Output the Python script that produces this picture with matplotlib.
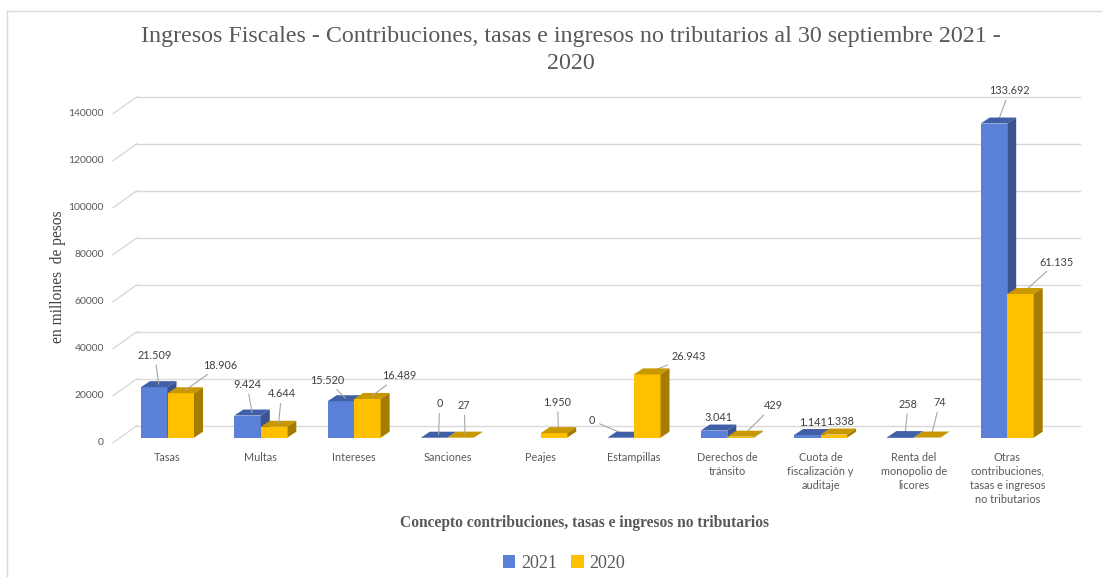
import numpy as np
import matplotlib
matplotlib.use('Agg')
import matplotlib.pyplot as plt
from matplotlib.patches import Polygon, Patch
from matplotlib.lines import Line2D

# datos (millones de pesos)
categorias = ['Tasas', 'Multas', 'Intereses', 'Sanciones', 'Peajes', 'Estampillas',
              'Derechos de\ntránsito', 'Cuota de\nfiscalización y\nauditaje',
              'Renta del\nmonopolio de\nlicores',
              'Otras\ncontribuciones,\ntasas e ingresos\nno tributarios']
valores_2021 = [21509, 9424, 15520, 0, np.nan, 0, 3041, 1141, 258, 133692]
valores_2020 = [18906, 4644, 16489, 27, 1950, 26943, 429, 1338, 74, 61135]
ticks_y = [0, 20000, 40000, 60000, 80000, 100000, 120000, 140000]

# posiciones de las etiquetas (desplazamiento en pixeles respecto a la cara superior)
off_2021 = [(-4, 29), (-5, 28), (-18, 18), (1, 31), (0, 0), (-33, 14), (0, 10), (1, 10), (3, 30), (11, 30)]
off_2020 = [(35, 25), (3, 30), (27, 20), (-1, 29), (-1, 28), (37, 15), (28, 28), (2, 10), (8, 32), (32, 29)]

W, H = 1102, 577
fig = plt.figure(figsize=(W / 100, H / 100), dpi=100)

# geometria del area de trazado en pixeles
L, R, B, T = 113, 1056, 437.7, 90
c0, paso = 167.5, 93.3
ux = 1 / paso
uy = 20000 / 47.0
ax = fig.add_axes([L / W, (H - B) / H, (R - L) / W, (B - T) / H])
x_lo, x_hi = (L - c0) / paso, (R - c0) / paso
ax.set_xlim(x_lo, x_hi)
ax.set_ylim(0, (B - T) * uy)
ax.axis('off')

gris = '#595959'
sans = 'Lato'
serif = 'Liberation Serif'

# lineas de la cuadricula (pared del fondo + piso lateral)
for v in ticks_y:
    yb = v + 12 * uy
    ax.plot([x_lo + 24 * ux, x_hi + 24 * ux], [yb, yb], color='#d9d9d9', lw=1, zorder=1, clip_on=False)
    ax.plot([x_lo, x_lo + 24 * ux], [yb - 17 * uy, yb], color='#d9d9d9', lw=1, zorder=1, clip_on=False)
    ax.text(x_lo - 9 * ux, v - 5 * uy, str(v), ha='right', va='center', fontsize=7.5,
            color=gris, family=sans)

w = 26.5 * ux
dx, dy = 9 * ux, 6 * uy
colores = {
    '2021': ('#5b80d8', '#405fa6', '#39548f'),
    '2020': ('#ffc000', '#c99700', '#a57c00'),
}


def barra(x0, h, cols, z):
    front, top, side = cols
    ax.add_patch(Polygon([(x0, 0), (x0 + w, 0), (x0 + w, h), (x0, h)], closed=True,
                         facecolor=front, edgecolor='none', zorder=z))
    ax.add_patch(Polygon([(x0, h), (x0 + w, h), (x0 + w + dx, h + dy), (x0 + dx, h + dy)],
                         closed=True, facecolor=top, edgecolor='none', zorder=z))
    ax.add_patch(Polygon([(x0 + w, 0), (x0 + w + dx, dy), (x0 + w + dx, h + dy), (x0 + w, h)],
                         closed=True, facecolor=side, edgecolor='none', zorder=z))


def etiqueta(xc, h, off):
    txt = f'{int(h):,}'.replace(',', '.')
    xy = (xc + dx / 2, h + dy / 2)
    flecha = None
    if abs(off[0]) + abs(off[1]) > 14:
        flecha = dict(arrowstyle='-', color='#a6a6a6', lw=0.8, shrinkA=1, shrinkB=0)
    ax.annotate(txt, xy=xy, xytext=off, textcoords='offset pixels', ha='center', va='center',
                fontsize=7.8, color='#404040', family=sans, arrowprops=flecha, zorder=10)


for i in range(len(categorias)):
    v1, v2 = valores_2021[i], valores_2020[i]
    if not np.isnan(v1):
        barra(i - w, v1, colores['2021'], 3 + 2 * i)
    barra(i, v2, colores['2020'], 4 + 2 * i)
    if not np.isnan(v1):
        etiqueta(i - w / 2, v1, off_2021[i])
    etiqueta(i + w / 2, v2, off_2020[i])
    ax.text(i, -14 * uy, categorias[i], ha='center', va='top', fontsize=7.8, color=gris,
            family=sans, linespacing=1.35)

# titulo y ejes
fig.text(571 / W, 1 - 50 / H,
         'Ingresos Fiscales - Contribuciones, tasas e ingresos no tributarios al 30 septiembre 2021 -\n2020',
         ha='center', va='center', fontsize=17.3, color=gris, family=serif, linespacing=1.32)
fig.text(58 / W, 1 - 277 / H, 'en millones  de pesos', rotation=90, ha='center', va='center',
         fontsize=11.2, color='#404040', family=serif)
fig.text(585 / W, 1 - 523 / H, 'Concepto contribuciones, tasas e ingresos no tributarios',
         ha='center', va='center', fontsize=11.2, color=gris, family=serif, fontweight='bold')

handles = [Patch(facecolor=colores['2021'][0]), Patch(facecolor=colores['2020'][0])]
fig.legend(handles, ['2021', '2020'], loc='center', bbox_to_anchor=(564 / W, 1 - 563 / H), ncol=2,
           frameon=False, handlelength=0.7, handleheight=0.7, handletextpad=0.3, columnspacing=0.8,
           prop={'family': serif, 'size': 13}, labelcolor=gris)

# borde del grafico
fig.add_artist(Line2D([7 / W, 1], [1 - 11 / H, 1 - 11 / H], color='#d9d9d9', lw=1))
fig.add_artist(Line2D([7 / W, 7 / W], [0, 1 - 11 / H], color='#d9d9d9', lw=1))

fig.savefig('out.png', dpi=100)
